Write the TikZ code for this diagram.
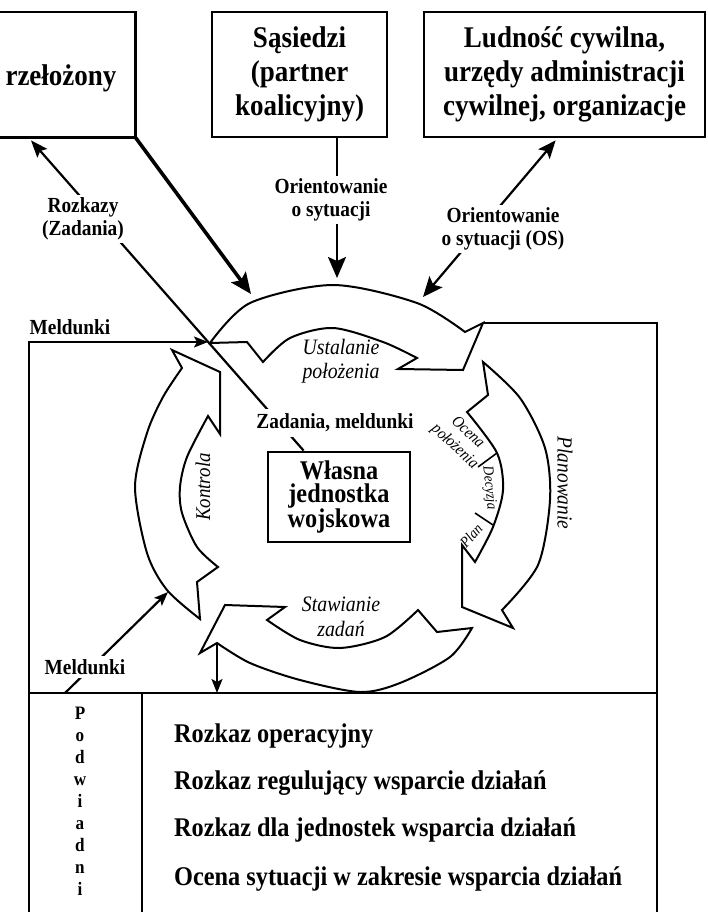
\documentclass[tikz,border=0pt]{standalone}
\usepackage{fontspec}
\setmainfont{Liberation Serif}[FakeStretch=0.9]
\usetikzlibrary{arrows.meta,calc}
\begin{document}
\begin{tikzpicture}[x=1pt,y=-1pt,
  boxline/.style={line width=2.8pt},
  conn/.style={line width=2.2pt},
  thickconn/.style={line width=3.6pt},
  blk/.style={line width=2pt,line join=miter},
  divline/.style={line width=1.6pt},
  bighead/.style={-{Stealth[length=21pt,width=18pt,inset=4pt]}},
  midhead/.style={-{Stealth[length=17pt,width=13pt,inset=3pt]}},
  twohead/.style={{Stealth[length=18pt,width=15pt,inset=4pt]}-{Stealth[length=20pt,width=17pt,inset=4pt]}},
  smallhead/.style={-{Stealth[length=14pt,width=11pt,inset=3pt]}},
  topbox/.style={draw,boxline,align=center,inner sep=0pt,
    font=\bfseries\fontsize{30}{34}\selectfont},
  toptext/.style={align=center,inner sep=0pt,font=\bfseries\fontsize{30}{34}\selectfont},
  lbl/.style={align=center,fill=white,inner xsep=2pt,inner ysep=3pt,
    font=\bfseries\fontsize{21.5}{23}\selectfont},
  cyc/.style={align=center,inner sep=0pt,font=\itshape\fontsize{22}{23.5}\selectfont},
  sub/.style={align=center,inner sep=0pt,font=\itshape\fontsize{15}{17}\selectfont},
  tbl/.style={anchor=base west,inner sep=0pt,font=\bfseries\fontsize{27}{30}\selectfont},
]
\useasboundingbox (0,0) rectangle (707,912);

% ---------- top boxes ----------
\node[inner sep=0pt,minimum width=135,minimum height=125,anchor=north west] (boss) at (0,12) {};
\draw[boxline] (boss.north west) -- (boss.north east) -- (boss.south east) -- (boss.south west);
\node[toptext] (bosst) at (61,78) {rzełożony};
\node[topbox,minimum width=175,minimum height=125] (sas) at (299.5,74.5) {Sąsiedzi\\(partner\\koalicyjny)};
\node[topbox,minimum width=281,minimum height=125] (civ) at (564.5,74.5) {Ludność cywilna,\\urzędy administracji\\cywilnej, organizacje};

% ---------- central box ----------
\node[draw,boxline,align=center,minimum width=142,minimum height=90,inner sep=0pt,
  font=\bfseries\fontsize{27}{23}\selectfont] (wl) at (339,497) {Własna\\jednostka\\wojskowa};

% ---------- named points ----------
\coordinate (tipP) at (251,294);
\coordinate (tipS) at (337,278);
\coordinate (tipOS) at (423,297);
\coordinate (tipMt) at (208,342);
\coordinate (cornL) at (29,342);
\coordinate (barbU) at (483,323);
\coordinate (cornR) at (657,323);
\coordinate (botL) at (29,912);
\coordinate (botR) at (657,912);
\coordinate (sepL) at (29,693);
\coordinate (sepR) at (657,693);
\coordinate (divT) at (142,693);
\coordinate (divB) at (142,912);
\coordinate (sepM) at (65,693);
\coordinate (tipMb) at (168,592);
\coordinate (stH) at (217,644);
\coordinate (sepD) at (217,693);

% ---------- cycle arrows ----------
% Ustalanie polozenia (top)
\draw[blk] plot[smooth] coordinates {(210,343) (250,303) (333,285) (417,303) (465,332)}
  -- (barbU) -- (463,370) -- (398,369)
  -- plot[smooth] coordinates {(417,358) (383,342) (333,328) (290,338) (263,362)}
  -- (247,342) -- cycle;
% Planowanie (right)
\draw[blk] plot[smooth] coordinates {(483,362) (520,398) (545,448) (550,500) (538,565) (502,610)}
  -- (513,628) -- (462,607) -- (462,545)
  -- plot[smooth] coordinates {(475,562) (493,527) (503,490) (497,453) (467,412)}
  -- (488,395) -- cycle;
% Stawianie zadan (bottom)
\draw[blk] plot[smooth] coordinates {(472,628) (450,657) (400,683) (360,692) (300,680) (250,663) (217,643)}
  -- (200,653) -- (225,605) -- (285,607)
  -- plot[smooth] coordinates {(267,620) (300,640) (340,648) (385,637) (418,610)}
  -- (437,632) -- cycle;
% Kontrola (left)
\draw[blk] plot[smooth] coordinates {(200,619) (167,590) (147,553) (135,487) (147,433) (163,397) (182,368)}
  -- (172,350) -- (220,372) -- (220,434)
  -- plot[smooth] coordinates {(208,416) (187,457) (180,487) (182,513) (197,547) (218,567)}
  -- (197,582) -- cycle;
% dividers inside Planowanie
\draw[divline] (497,453) -- (478,467);
\draw[divline] (475,513) -- (493,525);

% ---------- frame of subordinates ----------
\draw[conn,smallhead] (botL) -- (cornL) -- (tipMt);
\draw[conn] (barbU) -- (cornR) -- (botR);
\draw[conn] (sepL) -- (sepR);
\draw[conn] (divT) -- (divB);

% ---------- connectors ----------
\draw[thickconn,bighead] (boss.south east) -- (tipP);
\draw[conn,bighead] (sas.south -| tipS) -- (tipS);
\draw[conn,twohead] ($(civ.south west)+(133,2)$) -- (tipOS);
\draw[conn,midhead] ($(wl.north west)+(37,0)$) -- ($(boss.south west)+(31,3)$);
\draw[conn,smallhead] (sepM) -- (tipMb);
\draw[conn,smallhead] (stH) -- (sepD);

% ---------- labels ----------
\node[lbl] (orS) at (331,200) {Orientowanie\\o sytuacji};
\node[lbl] (orOS) at (503,229) {Orientowanie\\o sytuacji (OS)};
\node[lbl] (rozk) at (83,219) {Rozkazy\\(Zadania)};
\node[lbl,inner ysep=5pt] (zad) at (335,423) {Zadania, meldunki};
\node[lbl] (meld1) at (70,327) {Meldunki};
\node[lbl] (meld2) at (85,667) {Meldunki};

\node[cyc] (ust) at (341,361) {Ustalanie\\położenia};
\node[cyc,font=\itshape\fontsize{22}{25}\selectfont] (staw) at (341,617) {Stawianie\\zadań};
\node[cyc,rotate=90,font=\itshape\fontsize{21}{23}\selectfont] (kon) at (203,487) {Kontrola};
\node[cyc,rotate=-90,font=\itshape\fontsize{21.5}{23}\selectfont] (plan) at (565,483) {Planowanie};
\node[sub,rotate=-43,font=\itshape\fontsize{16.5}{19}\selectfont] (ocena) at (461,440) {Ocena\\położenia};
\node[sub,rotate=-84] (decy) at (489,488) {Decyzja};
\node[sub,rotate=48] (planx) at (471,536) {Plan};

% ---------- table ----------
\node[align=center,inner sep=0pt,font=\bfseries\fontsize{19}{22}\selectfont] (pod) at (80,801)
  {P\\o\\d\\w\\i\\a\\d\\n\\i};
\node[tbl] (r1) at (174,742) {Rozkaz operacyjny};
\node[tbl] (r2) at (174,789) {Rozkaz regulujący wsparcie działań};
\node[tbl] (r3) at (174,836) {Rozkaz dla jednostek wsparcia działań};
\node[tbl] (r4) at (174,885) {Ocena sytuacji w zakresie wsparcia działań};
\end{tikzpicture}
\end{document}
